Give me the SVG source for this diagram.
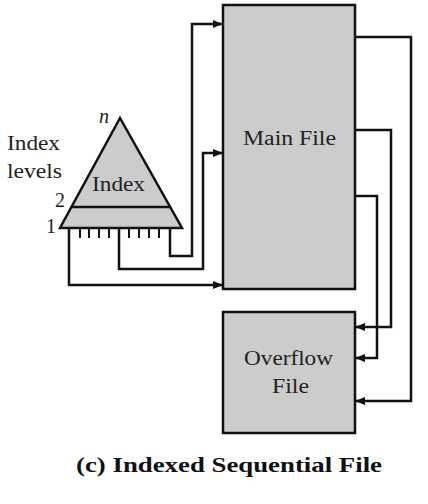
<svg xmlns="http://www.w3.org/2000/svg" width="428" height="504" viewBox="0 0 428 504">
<style>
.box{fill:#cccccc;stroke:#111;stroke-width:2.5}
.ln{fill:none;stroke:#111;stroke-width:2.5}
.tk{stroke:#111;stroke-width:2}
.t{font-family:"Liberation Serif","Times New Roman","DejaVu Serif",serif;font-size:20px;fill:#222}
.cap{font-family:"Liberation Serif","Times New Roman","DejaVu Serif",serif;font-size:21px;font-weight:bold;fill:#111}
</style>
<defs>
<marker id="ah" markerUnits="userSpaceOnUse" markerWidth="10" markerHeight="8" refX="9" refY="4" orient="auto">
<path d="M0,0 L10,4 L0,8 Z" fill="#111"/>
</marker>
</defs>
<rect width="428" height="504" fill="#fff"/>
<g id="connectors">
<path class="ln" d="M170,224 V256 H192 V24 H222" marker-end="url(#ah)"/>
<path class="ln" d="M119,224 V269 H203 V153 H222" marker-end="url(#ah)"/>
<path class="ln" d="M69,226 V285 H222" marker-end="url(#ah)"/>
<path class="ln" d="M355,37 H411 V401 H356" marker-end="url(#ah)"/>
<path class="ln" d="M355,130 H391 V327 H356" marker-end="url(#ah)"/>
<path class="ln" d="M355,196 H377 V358 H356" marker-end="url(#ah)"/>
</g>
<g id="index">
<polygon class="box" points="120,118 60,228 182,228"/>
<line class="ln" x1="71.5" y1="207" x2="170" y2="207"/>
<g class="tk">
<line x1="80" y1="228" x2="80" y2="238"/>
<line x1="89" y1="228" x2="89" y2="238"/>
<line x1="99" y1="228" x2="99" y2="238"/>
<line x1="109" y1="228" x2="109" y2="238"/>
<line x1="129" y1="228" x2="129" y2="238"/>
<line x1="139" y1="228" x2="139" y2="238"/>
<line x1="149" y1="228" x2="149" y2="238"/>
<line x1="159" y1="228" x2="159" y2="238"/>
</g>
<text class="t" x="92" y="191" textLength="53" lengthAdjust="spacingAndGlyphs">Index</text>
<text class="t" x="99" y="123" font-style="italic">n</text>
<text class="t" x="55" y="207">2</text>
<text class="t" x="46" y="233">1</text>
</g>
<g id="levels">
<text class="t" x="7" y="150" textLength="53" lengthAdjust="spacingAndGlyphs">Index</text>
<text class="t" x="7" y="178" textLength="55" lengthAdjust="spacingAndGlyphs">levels</text>
</g>
<g id="main">
<rect class="box" x="223" y="5" width="132" height="284"/>
<text class="t" x="243" y="145" textLength="93" lengthAdjust="spacingAndGlyphs">Main File</text>
</g>
<g id="overflow">
<rect class="box" x="223" y="312" width="132" height="121"/>
<text class="t" x="244" y="365" textLength="89" lengthAdjust="spacingAndGlyphs">Overflow</text>
<text class="t" x="272" y="393" textLength="37" lengthAdjust="spacingAndGlyphs">File</text>
</g>
<text class="cap" x="76" y="472" textLength="306" lengthAdjust="spacingAndGlyphs">(c) Indexed Sequential File</text>
</svg>
